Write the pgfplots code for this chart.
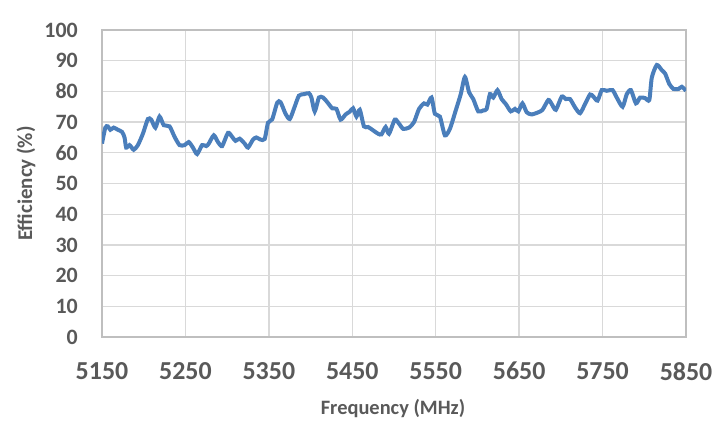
\documentclass[border=0pt]{standalone}
\usepackage{pgfplots}
\pgfplotsset{compat=1.18}
\usepackage{fontspec}
\setmainfont{Carlito}
\definecolor{lineblue}{HTML}{4A7EBB}
\definecolor{gridgrey}{HTML}{D9D9D9}
\definecolor{framegrey}{HTML}{BFBFBF}
\definecolor{labelgrey}{HTML}{595959}

\pgfplotstableread{
freq eff
5150 63.0
5154 68.2
5157 68.6
5160 67.5
5164 68.2
5169 67.5
5174 66.8
5177 65.0
5179 61.7
5183 62.5
5188 61.0
5193 62.5
5199 66.2
5205 71.0
5209 70.8
5214 68.2
5219 71.8
5224 69.0
5231 68.6
5237 65.2
5243 62.5
5249 62.5
5254 63.5
5259 61.7
5264 59.6
5270 62.5
5275 62.2
5278 63.0
5284 65.7
5289 63.5
5294 62.2
5301 66.5
5306 65.2
5310 63.9
5315 64.6
5321 63.0
5325 61.7
5331 64.3
5335 65.0
5340 64.3
5345 64.5
5349 69.8
5354 70.9
5360 76.3
5364 76.5
5370 72.7
5375 71.0
5380 74.3
5386 78.6
5392 79.1
5398 79.4
5401 78.0
5405 73.5
5410 78.0
5415 78.0
5420 76.5
5426 74.5
5431 74.3
5436 70.8
5442 72.5
5447 73.4
5451 74.5
5455 71.8
5459 74.0
5464 68.6
5469 68.4
5475 67.3
5481 66.2
5485 66.0
5490 68.4
5494 66.2
5501 70.8
5506 69.5
5511 67.8
5518 68.2
5524 70.0
5530 74.3
5536 76.1
5540 75.7
5545 78.0
5549 72.7
5555 71.8
5561 65.7
5567 67.8
5574 73.8
5580 79.1
5585 84.7
5590 79.7
5595 77.5
5601 73.5
5607 73.8
5611 74.3
5615 79.1
5619 78.0
5624 80.4
5629 77.5
5634 75.9
5640 73.5
5645 74.3
5649 73.5
5654 76.1
5659 73.2
5665 72.5
5673 73.2
5678 74.0
5685 77.2
5689 75.9
5694 74.0
5701 78.3
5706 77.5
5711 77.5
5717 74.8
5723 72.9
5729 75.9
5735 79.0
5739 78.3
5744 77.0
5749 80.4
5755 80.2
5762 80.4
5767 78.0
5774 75.0
5779 79.1
5784 80.4
5790 76.1
5795 78.0
5801 77.8
5806 77.2
5809 84.5
5815 88.6
5821 86.9
5825 85.8
5830 82.4
5835 80.8
5841 80.8
5845 81.5
5850 80.2
}\efficiency

\begin{document}
\begin{tikzpicture}[x=1bp,y=1bp]
\useasboundingbox (0,0) rectangle (712,420);
\begin{axis}[
  at={(102bp,83bp)}, anchor=south west,
  scale only axis, width=584bp, height=307bp,
  xmin=5150, xmax=5850, ymin=0, ymax=100,
  xtick={5150,5250,...,5850}, ytick={0,10,...,100},
  major tick length=0pt,
  grid=major,
  major grid style={gridgrey, line width=1.3bp},
  axis line style={framegrey, line width=1.3bp},
  /pgf/number format/assume math mode=true,
  /pgf/number format/1000 sep={},
  xticklabel style={font=\fontsize{26}{26}\selectfont\bfseries, text=labelgrey, anchor=north, inner sep=0pt, yshift=-25bp},
  yticklabel style={font=\fontsize{22}{22}\selectfont\bfseries, text=labelgrey, anchor=east, inner sep=0pt, xshift=-24bp},
]
\addplot[lineblue, line width=4bp, smooth, tension=0.4] table[x=freq, y=eff] {\efficiency};
\end{axis}
\node[anchor=base, inner sep=0pt, text=labelgrey, font=\fontsize{20.5}{20.5}\selectfont\bfseries] at (393,6) {Frequency (MHz)};
\node[anchor=base, rotate=90, inner sep=0pt, text=labelgrey, font=\fontsize{21}{21}\selectfont\bfseries] at (32,236.5) {Efficiency (\%)};
\end{tikzpicture}
\end{document}
